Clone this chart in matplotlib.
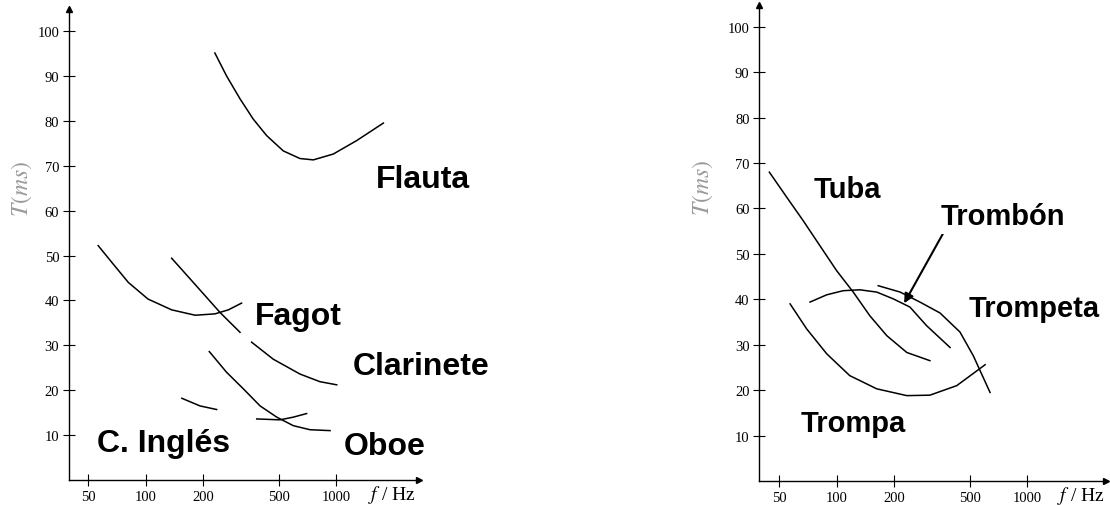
import matplotlib.pyplot as plt

plt.rcParams['mathtext.fontset'] = 'stix'

# left panel: woodwinds (f in Hz, T in ms); None = gap in the printed curve
flauta_f = [231, 266, 313, 367, 432, 528, 646, 759, 966, 1282, 1770]
flauta_t = [95.1, 90.0, 84.9, 80.4, 76.7, 73.3, 71.6, 71.3, 72.6, 75.6, 79.5]
fagot_f = [56.4, 66.4, 81.2, 103, 137, 182, 231, 272, 319]
fagot_t = [52.2, 48.5, 44.0, 40.3, 37.9, 36.7, 37.0, 37.9, 39.4]
clarinete_f = [137, 178, 246, 313, None, 360, 468, 646, 822, 1007]
clarinete_t = [49.4, 44.0, 37.3, 32.9, None, 30.7, 26.9, 23.6, 21.9, 21.2]
oboe_f = [216, 266, 326, 399, 488, 596, 729, 929]
oboe_t = [28.6, 24.0, 20.3, 16.5, 14.0, 12.1, 11.2, 11.0]
ingles_f = [155, 193, 236, None, 383, 507, 596, 700]
ingles_t = [18.2, 16.5, 15.7, None, 13.6, 13.4, 14.0, 14.8]

# right panel: brass
tuba_f = [44.3, 54.6, 66.7, 81.6, 99.9, 122, 149, 183, 233, 308]
tuba_t = [68.0, 62.5, 57.3, 51.8, 46.3, 41.6, 36.4, 32.0, 28.3, 26.5]
trombon_f = [72.4, 88.6, 108, 132, 162, 198, 242, 296, 393]
trombon_t = [39.4, 41.0, 41.9, 42.1, 41.6, 40.1, 38.3, 34.2, 29.4]
trompeta_f = [165, 215, 273, 348, 443, 520, 637]
trompeta_t = [43.0, 41.6, 39.4, 37.0, 32.8, 27.6, 19.5]
trompa_f = [56.9, 69.5, 88.6, 117, 162, 233, 308, 426, 600]
trompa_t = [39.0, 33.5, 28.0, 23.2, 20.3, 18.8, 18.9, 21.0, 25.6]

xticks = [50, 100, 200, 500, 1000]
yticks = [10, 20, 30, 40, 50, 60, 70, 80, 90, 100]

fig = plt.figure(figsize=(11.1, 5.06), dpi=100)
ax1 = fig.add_axes([0.0621, 0.0494, 0.3151, 0.9308])
ax2 = fig.add_axes([0.684, 0.0474, 0.3124, 0.9407])


def style(ax, xmin, xmax, ymax, xl):
    ax.set_xscale('log')
    ax.set_xlim(xmin, xmax)
    ax.set_ylim(0, ymax)
    for s in ['top', 'right']:
        ax.spines[s].set_visible(False)
    for s in ['left', 'bottom']:
        ax.spines[s].set_linewidth(1.0)
    ax.set_xticks(xticks)
    ax.set_xticklabels([str(v) for v in xticks])
    ax.minorticks_off()
    ax.set_yticks(yticks)
    ax.tick_params(direction='inout', length=8, width=0.8, labelsize=10.5, pad=3)
    for lab in ax.get_xticklabels() + ax.get_yticklabels():
        lab.set_fontfamily('Liberation Serif')
    ax.plot(1, 0, '>k', ms=5, transform=ax.transAxes, clip_on=False)
    ax.plot(0, 1, '^k', ms=5, transform=ax.transAxes, clip_on=False)
    ax.text(xl, -0.03, r'$f$ / Hz', transform=ax.transAxes, fontsize=14,
            family='Liberation Serif', va='center', ha='left')


style(ax1, 39.6, 2712, 104.9, 0.854)
style(ax2, 39.2, 2585, 104.8, 0.858)

ax1.text(-0.134, 0.62, r'$T(ms)$', transform=ax1.transAxes, rotation=90,
         fontsize=17, color='#999999', ha='center', va='center')
ax2.text(-0.163, 0.618, r'$T(ms)$', transform=ax2.transAxes, rotation=90,
         fontsize=17, color='#999999', ha='center', va='center')

lk = dict(color='black', lw=1.1)
ax1.plot(flauta_f, flauta_t, **lk)
ax1.plot(fagot_f, fagot_t, **lk)
ax1.plot(clarinete_f, clarinete_t, **lk)
ax1.plot(oboe_f, oboe_t, **lk)
ax1.plot(ingles_f, ingles_t, **lk)

ax2.plot(tuba_f, tuba_t, **lk)
ax2.plot(trombon_f, trombon_t, **lk)
ax2.plot(trompeta_f, trompeta_t, **lk)
ax2.plot(trompa_f, trompa_t, **lk)

box = dict(facecolor='white', edgecolor='none', pad=3)
tk = dict(family='Liberation Sans', fontweight='bold', va='baseline',
          ha='left', clip_on=False, bbox=box, zorder=5)
ax1.text(1614, 65.3, 'Flauta', fontsize=23, **tk)
ax1.text(374, 34.7, 'Fagot', fontsize=23, **tk)
ax1.text(1216, 23.6, 'Clarinete', fontsize=23, **tk)
ax1.text(1102, 5.8, 'Oboe', fontsize=23, **tk)
ax1.text(55.7, 6.5, 'C. Inglés', fontsize=23, **tk)

ax2.text(75.3, 62.5, 'Tuba', fontsize=21, **tk)
ax2.text(349, 56.6, 'Trombón', fontsize=21, **tk)
ax2.text(491, 36.4, 'Trompeta', fontsize=21, **tk)
ax2.text(64.6, 11.1, 'Trompa', fontsize=21, **tk)
ax2.annotate('', xy=(222, 38.6), xytext=(385, 56.6),
             arrowprops=dict(arrowstyle='-|>', color='black', lw=1.5,
                             mutation_scale=14))

fig.savefig('out.png', dpi=100)
